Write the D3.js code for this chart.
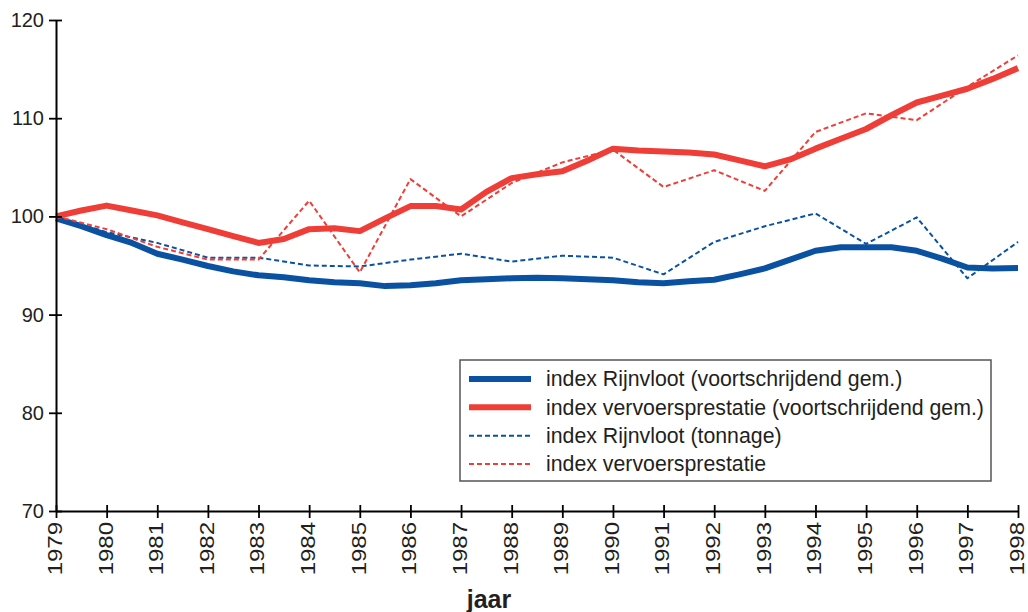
<!DOCTYPE html>
<html>
<head>
<meta charset="utf-8">
<script src="https://cdn.jsdelivr.net/npm/d3@7"></script>
<style>
  body { margin: 0; background: #fff; }
  text { font-family: "Liberation Sans", Arial, sans-serif; fill: #231f20; }
</style>
</head>
<body>
<script>
// jaren (tick labels en x van de jaarreeksen)
let years = [1979, 1980, 1981, 1982, 1983, 1984, 1985, 1986, 1987, 1988,
             1989, 1990, 1991, 1992, 1993, 1994, 1995, 1996, 1997, 1998];

// halfjaarlijkse punten voor de voortschrijdende gemiddelden
let halfYears = [1979, 1979.5, 1980, 1980.5, 1981, 1981.5, 1982, 1982.5, 1983, 1983.5,
                 1984, 1984.5, 1985, 1985.5, 1986, 1986.5, 1987, 1987.5, 1988, 1988.5,
                 1989, 1989.5, 1990, 1990.5, 1991, 1991.5, 1992, 1992.5, 1993, 1993.5,
                 1994, 1994.5, 1995, 1995.5, 1996, 1996.5, 1997, 1997.5, 1998];

let rijnvlootGem = [99.8, 99.0, 98.1, 97.3, 96.2, 95.6, 94.95, 94.4, 94.0, 93.8,
                    93.5, 93.3, 93.2, 92.9, 93.0, 93.2, 93.5, 93.6, 93.7, 93.75,
                    93.7, 93.6, 93.5, 93.3, 93.2, 93.4, 93.55, 94.1, 94.7, 95.6,
                    96.5, 96.85, 96.85, 96.85, 96.5, 95.7, 94.8, 94.7, 94.75];

let vervoerGem = [100, 100.6, 101.1, 100.6, 100.1, 99.4, 98.7, 98.0, 97.3, 97.7,
                  98.7, 98.8, 98.5, 99.8, 101.05, 101.05, 100.7, 102.5, 103.9, 104.3,
                  104.6, 105.7, 106.9, 106.7, 106.6, 106.5, 106.3, 105.7, 105.1, 105.8,
                  106.9, 107.9, 108.9, 110.3, 111.6, 112.3, 113.0, 114.0, 115.1];

let rijnvlootTon = [100, 98.4, 97.3, 95.8, 95.8, 95.0, 94.9, 95.6, 96.2, 95.4,
                    96.0, 95.8, 94.1, 97.4, 99.0, 100.3, 97.2, 99.9, 93.7, 97.4];

let vervoerIdx = [100, 98.7, 96.9, 95.6, 95.6, 101.6, 94.3, 103.8, 100.0, 103.4,
                  105.5, 106.8, 103.0, 104.7, 102.6, 108.6, 110.5, 109.8, 113.2, 116.4];

let yTicks = [70, 80, 90, 100, 110, 120];

let legendLabels = ["index Rijnvloot (voortschrijdend gem.)",
                    "index vervoersprestatie (voortschrijdend gem.)",
                    "index Rijnvloot (tonnage)",
                    "index vervoersprestatie"];

let w = 1028, h = 612;
let blue = "#0a52a1", red = "#ef3e37";

let x = d3.scaleLinear().domain([1979, 1998]).range([56, 1018]);
let y = d3.scaleLinear().domain([70, 120]).range([511, 20]);

let svg = d3.select("body").append("svg")
    .attr("width", w)
    .attr("height", h);

// series
let series = [
    { xs: halfYears, ys: rijnvlootGem, color: blue, width: 6, dash: null },
    { xs: halfYears, ys: vervoerGem, color: red, width: 6, dash: null },
    { xs: years, ys: rijnvlootTon, color: blue, width: 2, dash: "5,3" },
    { xs: years, ys: vervoerIdx, color: red, width: 2, dash: "5,3" }
];

let line = d3.line()
    .x(function(d) { return x(d[0]); })
    .y(function(d) { return y(d[1]); });

series.forEach(function(s) {
    svg.append("path")
        .datum(d3.zip(s.xs, s.ys))
        .attr("d", line)
        .attr("fill", "none")
        .attr("stroke", s.color)
        .attr("stroke-width", s.width)
        .attr("stroke-linejoin", "round")
        .attr("stroke-dasharray", s.dash);
});

// y axis
let yAxis = svg.append("g")
    .attr("transform", "translate(56,0)")
    .call(d3.axisLeft(y).tickValues(yTicks).tickSize(7).tickSizeOuter(0).tickPadding(5));
yAxis.selectAll(".tick line").attr("x1", 6);
yAxis.selectAll(".tick text").style("font-size", "20px").attr("fill", "#231f20");

// x axis
let xAxis = svg.append("g")
    .attr("transform", "translate(0,511)")
    .call(d3.axisBottom(x).tickValues(years).tickFormat(d3.format("d")).tickSize(7).tickSizeOuter(0));
xAxis.selectAll(".tick line").attr("y1", -6);
xAxis.selectAll(".tick text")
    .style("font-size", "20px")
    .attr("fill", "#231f20")
    .attr("text-anchor", "end")
    .attr("x", 0).attr("y", 0).attr("dy", "0.27em")
    .attr("transform", "translate(0,11) rotate(-90) scale(1.2,1)");

[yAxis, xAxis].forEach(function(a) {
    a.select(".domain").attr("stroke", "#000").attr("stroke-width", 2);
    a.selectAll(".tick line").attr("stroke", "#000").attr("stroke-width", 1.8);
});

// as-titel
svg.append("text")
    .attr("x", 489)
    .attr("y", 608)
    .attr("text-anchor", "middle")
    .style("font-size", "25px")
    .style("font-weight", "bold")
    .text("jaar");

// legend
let legend = svg.append("g");
legend.append("rect")
    .attr("x", 460).attr("y", 360)
    .attr("width", 531).attr("height", 121)
    .attr("fill", "#fff")
    .attr("stroke", "#555")
    .attr("stroke-width", 1.5);

let rowY = d3.scalePoint().domain(d3.range(4)).range([379, 464]);

series.forEach(function(s, i) {
    legend.append("line")
        .attr("x1", 469).attr("x2", 531)
        .attr("y1", rowY(i)).attr("y2", rowY(i))
        .attr("stroke", s.color)
        .attr("stroke-width", s.width)
        .attr("stroke-dasharray", s.dash);
    legend.append("text")
        .attr("x", 546)
        .attr("y", rowY(i))
        .attr("dy", "0.35em")
        .style("font-size", "21.3px")
        .text(legendLabels[i]);
});
</script>
</body>
</html>
